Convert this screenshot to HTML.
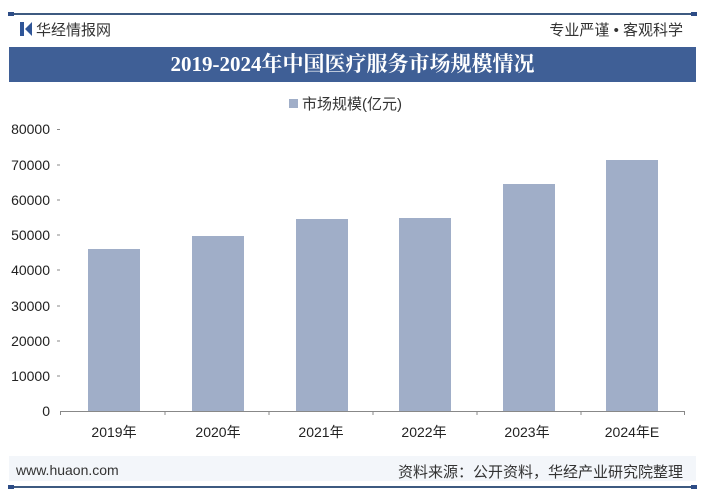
<!DOCTYPE html><html><head><meta charset="utf-8"><style>
body{margin:0;width:705px;height:500px;background:#fff;position:relative;overflow:hidden;font-family:"Liberation Sans","Noto Sans CJK SC",sans-serif}
.a{position:absolute}
</style></head><body>
<div class="a" style="left:8px;top:13px;width:689px;height:2px;background:#3d5a80"></div>
<div class="a" style="left:8px;top:12px;width:6px;height:4px;background:#2d4c86"></div>
<div class="a" style="left:691px;top:12px;width:6px;height:4px;background:#2d4c86"></div>
<div class="a" style="left:20px;top:22px;width:4px;height:14px;background:#2f5597"></div>
<div class="a" style="left:25px;top:22px;width:0;height:0;border-top:7px solid transparent;border-bottom:7px solid transparent;border-right:7px solid #2f5597"></div>
<div class="a" style="left:36px;top:19px;font-size:15px;color:#333">华经情报网</div>
<div class="a" style="right:22px;top:19px;font-size:15px;color:#333">专业严谨 • 客观科学</div>
<div class="a" style="left:9px;top:47px;width:687px;height:35px;background:#3f5f96;color:#fff;font-size:21px;font-weight:bold;text-align:center;line-height:35px;font-family:'Liberation Serif','Noto Serif CJK SC',serif">2019-2024年中国医疗服务市场规模情况</div>
<div class="a" style="left:289px;top:99px;width:9px;height:9px;background:#a0aec8"></div>
<div class="a" style="left:302px;top:93px;font-size:15px;color:#333">市场规模(亿元)</div>
<svg class="a" style="left:0;top:0" width="705" height="500">
<g font-size="14" fill="#222" text-anchor="end" font-family="Liberation Sans,sans-serif">
<text x="50" y="134">80000</text><text x="50" y="170">70000</text><text x="50" y="205">60000</text><text x="50" y="240">50000</text><text x="50" y="275">40000</text><text x="50" y="311">30000</text><text x="50" y="346">20000</text><text x="50" y="381">10000</text><text x="50" y="416">0</text>
</g>
<g stroke="#888" stroke-width="1"><line x1="60" y1="411.5" x2="685" y2="411.5"/>
<line x1="57" y1="129.5" x2="60" y2="129.5"/><line x1="57" y1="165" x2="60" y2="165"/><line x1="57" y1="200" x2="60" y2="200"/><line x1="57" y1="235" x2="60" y2="235"/><line x1="57" y1="270" x2="60" y2="270"/><line x1="57" y1="306" x2="60" y2="306"/><line x1="57" y1="341" x2="60" y2="341"/><line x1="57" y1="376" x2="60" y2="376"/>
<line x1="60.5" y1="411" x2="60.5" y2="415"/><line x1="165" y1="411" x2="165" y2="415"/><line x1="269" y1="411" x2="269" y2="415"/><line x1="373" y1="411" x2="373" y2="415"/><line x1="477" y1="411" x2="477" y2="415"/><line x1="581" y1="411" x2="581" y2="415"/><line x1="684.5" y1="411" x2="684.5" y2="415"/></g>
<g fill="#a0aec8">
<rect x="88" y="249" width="52" height="162"/><rect x="192" y="236" width="52" height="175"/><rect x="296" y="219" width="52" height="192"/><rect x="399" y="218" width="52" height="193"/><rect x="503" y="184" width="52" height="227"/><rect x="606" y="160" width="52" height="251"/>
</g>
<g font-size="14" fill="#222" text-anchor="middle" font-family="Liberation Sans,Noto Sans CJK SC,sans-serif">
<text x="114" y="437">2019年</text><text x="218" y="437">2020年</text><text x="321" y="437">2021年</text><text x="424" y="437">2022年</text><text x="527" y="437">2023年</text><text x="632" y="437">2024年E</text>
</g>
</svg>
<div class="a" style="left:9px;top:456px;width:687px;height:25px;background:#f3f6fa"></div>
<div class="a" style="left:16px;top:462px;font-size:14px;color:#333">www.huaon.com</div>
<div class="a" style="right:22px;top:461px;font-size:15px;color:#333">资料来源：公开资料，华经产业研究院整理</div>
<div class="a" style="left:8px;top:486px;width:689px;height:2px;background:#3d5a80"></div>
<div class="a" style="left:8px;top:485px;width:6px;height:4px;background:#2d4c86"></div>
<div class="a" style="left:691px;top:485px;width:6px;height:4px;background:#2d4c86"></div>
</body></html>
